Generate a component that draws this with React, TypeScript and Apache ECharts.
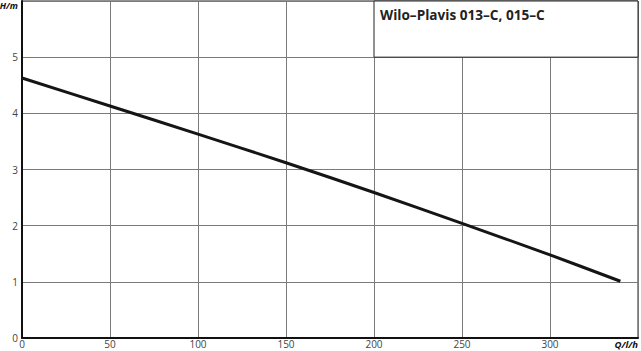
import React, { useEffect, useRef } from "react";
import * as echarts from "echarts";

const flowQ = [0, 50, 100, 150, 200, 250, 300, 340];
const headH = [4.63, 4.13, 3.63, 3.12, 2.59, 2.04, 1.48, 1.01];
const chartTitle = "Wilo–Plavis 013–C, 015–C";
const xUnit = "Q/l/h";
const yUnit = "H/m";

export default function App() {
  const ref = useRef<HTMLDivElement>(null);
  useEffect(() => {
    const chart = echarts.init(ref.current!, null, { renderer: "svg" });
    chart.setOption({
      animation: false,
      backgroundColor: "#ffffff",
      grid: {
        left: 22,
        right: 3,
        top: 1,
        bottom: 13,
        outerBoundsMode: "none",
        containLabel: false,
        show: true,
        borderColor: "#222",
        borderWidth: 1,
      },
      xAxis: {
        type: "value",
        min: 0,
        max: 350,
        interval: 50,
        axisLine: { show: true, onZero: false, lineStyle: { color: "#111", width: 2 } },
        axisTick: { show: false },
        splitLine: { show: true, lineStyle: { color: "#7a7a7a", width: 1 } },
        axisLabel: {
          margin: 1,
          fontSize: 10,
          color: "#444",
          fontFamily: "Open Sans",
          alignMaxLabel: "right",
          formatter: (v: number) => (v === 350 ? "{u|" + xUnit + "}" : String(v)),
          rich: {
            u: { fontSize: 9.5, fontWeight: "bold", fontStyle: "italic", color: "#111", fontFamily: "Open Sans" },
          },
        },
      },
      yAxis: {
        type: "value",
        min: 0,
        max: 6,
        interval: 1,
        axisLine: { show: true, onZero: false, lineStyle: { color: "#111", width: 2 } },
        axisTick: { show: false },
        splitLine: { show: true, lineStyle: { color: "#7a7a7a", width: 1 } },
        axisLabel: {
          margin: 4,
          fontSize: 10,
          color: "#444",
          fontFamily: "Open Sans",
          verticalAlignMaxLabel: "top",
          formatter: (v: number) => (v === 6 ? "{u|" + yUnit + "}" : String(v)),
          rich: {
            u: { fontSize: 9, fontWeight: "bold", fontStyle: "italic", color: "#111", fontFamily: "Open Sans" },
          },
        },
      },
      series: [
        {
          type: "line",
          data: flowQ.map((q, i) => [q, headH[i]]),
          smooth: 0.3,
          symbol: "none",
          lineStyle: { color: "#151515", width: 3 },
          markArea: {
            silent: true,
            itemStyle: { color: "rgba(255,255,255,1)", borderColor: "#222", borderWidth: 1 },
            label: { show: false },
            data: [[{ coord: [200, 5] }, { coord: [350, 6] }]],
          },
        },
      ],
    });
    const p = chart.convertToPixel({ gridIndex: 0 }, [200, 6]) as number[];
    chart.setOption({
      graphic: [
        {
          type: "text",
          x: p[0] + 6,
          y: p[1] + 6,
          z: 100,
          style: {
            text: chartTitle,
            fontSize: 13.6,
            fontWeight: "bold",
            fill: "#222",
            fontFamily: "Open Sans",
          },
        },
      ],
    });
    return () => chart.dispose();
  }, []);
  return <div ref={ref} style={{ width: 641, height: 351, position: "absolute", left: 0, top: 0 }} />;
}
